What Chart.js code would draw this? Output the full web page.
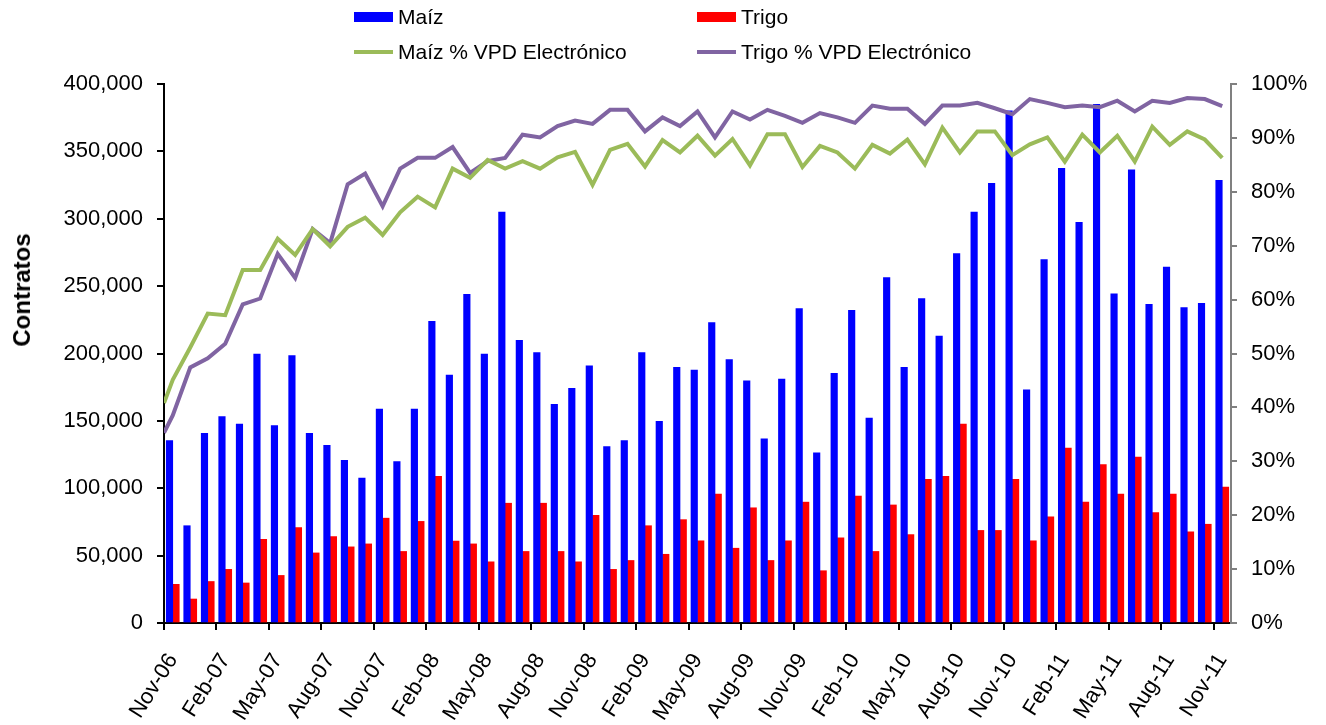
<!DOCTYPE html>
<html>
<head>
<meta charset="utf-8">
<script src="https://cdn.jsdelivr.net/npm/chart.js@4.4.1/dist/chart.umd.min.js"></script>
<style>
html,body{margin:0;padding:0;background:#fff;}
#wrap{position:relative;width:1326px;height:725px;overflow:hidden;}
#wrap canvas{position:absolute;left:0;top:0;}
.leg{position:absolute;font-family:"Liberation Sans",Arial,sans-serif;font-size:21px;color:#000;line-height:24px;white-space:nowrap;}
.sw{position:absolute;}
#ytitle{position:absolute;font-family:"Liberation Sans",Arial,sans-serif;font-weight:bold;font-size:24px;color:#000;white-space:nowrap;transform:translate(-50%,-50%) rotate(-90deg);}
</style>
</head>
<body>
<div id="wrap">
<canvas id="c" width="1326" height="725"></canvas>
<div id="ytitle">Contratos</div>
</div>
<script>
// ---- Data ----
const categories = ['Nov-06','Dec-06','Jan-07','Feb-07','Mar-07','Apr-07','May-07','Jun-07','Jul-07','Aug-07','Sep-07','Oct-07',
'Nov-07','Dec-07','Jan-08','Feb-08','Mar-08','Apr-08','May-08','Jun-08','Jul-08','Aug-08','Sep-08','Oct-08',
'Nov-08','Dec-08','Jan-09','Feb-09','Mar-09','Apr-09','May-09','Jun-09','Jul-09','Aug-09','Sep-09','Oct-09',
'Nov-09','Dec-09','Jan-10','Feb-10','Mar-10','Apr-10','May-10','Jun-10','Jul-10','Aug-10','Sep-10','Oct-10',
'Nov-10','Dec-10','Jan-11','Feb-11','Mar-11','Apr-11','May-11','Jun-11','Jul-11','Aug-11','Sep-11','Oct-11','Nov-11'];

const maiz = [135400,72200,140700,153200,147600,199600,146500,198500,140700,131900,120800,107500,
158700,119700,158700,223800,183900,243900,199600,305000,209700,200700,162200,174100,
190800,130900,135400,200700,149700,189800,187700,223000,195400,179700,136700,181000,
233300,126300,185300,232000,152100,256400,189800,240700,212900,274200,305000,326200,
380000,173100,269700,337400,297300,385000,244200,336300,236500,264100,234100,237300,328600];

const trigo = [28700,17800,30800,39800,29700,62100,35300,70900,52000,64200,56500,58700,
77800,53100,75400,108800,60800,58700,45400,88900,53100,88900,53100,45400,
79900,39800,46400,72200,51000,76700,61000,95600,55500,85500,46400,61000,
89700,38800,63200,94200,53100,87600,65600,106700,108800,147600,68700,68700,
106700,61000,78800,129800,89700,117600,95600,123200,82000,95600,67700,73300,100900];

// % values; the "Start" value is where each line meets the left axis
const maizPctStart = 40.8;
const maizPct = [45.1,51.1,57.4,57.1,65.5,65.5,71.3,68.3,73.1,69.9,73.5,75.2,
72.0,76.2,79.1,77.1,84.3,82.6,85.9,84.3,85.7,84.3,86.4,87.4,
81.3,87.8,88.9,84.7,89.6,87.3,90.4,86.7,89.8,84.9,90.7,90.7,
84.6,88.5,87.3,84.3,88.7,87.1,89.7,85.1,91.9,87.3,91.2,91.2,
86.8,88.8,90.1,85.6,90.6,87.3,90.4,85.6,92.1,88.7,91.2,89.7,86.3];

const trigoPctStart = 35.3;
const trigoPct = [38.5,47.4,49.1,51.8,59.1,60.2,68.5,64.0,73.1,70.5,81.4,83.4,
77.3,84.3,86.3,86.3,88.3,83.5,85.7,86.3,90.6,90.1,92.2,93.2,
92.6,95.2,95.2,91.2,93.8,92.2,94.9,90.1,94.9,93.4,95.2,94.1,
92.8,94.6,93.8,92.8,96.0,95.4,95.4,92.6,96.0,96.0,96.5,95.5,
94.4,97.2,96.5,95.7,96.0,95.7,96.9,94.9,96.9,96.5,97.4,97.2,95.9];

const leftTicks = {min:0, max:400000, step:50000};
const rightTicks = {min:0, max:100, step:10};

const seriesNames = ['Maíz','Trigo','Maíz % VPD Electrónico','Trigo % VPD Electrónico'];
const seriesColors = ['#0000FF','#FF0000','#9BBB59','#8064A2'];

// ---- helpers ----
function linePoints(start, arr){
  const pts = [{x:-0.5, y:start}];
  arr.forEach((v,i)=>pts.push({x:i, y:v}));
  return pts;
}

const FONT = '"Liberation Sans", Arial, sans-serif';

const chart = new Chart(document.getElementById('c'), {
  data: {
    labels: categories,
    datasets: [
      {type:'line', label:seriesNames[2], data:linePoints(maizPctStart, maizPct), xAxisID:'xl', yAxisID:'y2',
       borderColor:seriesColors[2], borderWidth:4, pointRadius:0, tension:0, fill:false, order:0},
      {type:'line', label:seriesNames[3], data:linePoints(trigoPctStart, trigoPct), xAxisID:'xl', yAxisID:'y2',
       borderColor:seriesColors[3], borderWidth:4, pointRadius:0, tension:0, fill:false, order:0},
      {type:'bar', label:seriesNames[0], data:maiz, xAxisID:'x', yAxisID:'y',
       backgroundColor:seriesColors[0], barThickness:6.5, order:1},
      {type:'bar', label:seriesNames[1], data:trigo, xAxisID:'x', yAxisID:'y',
       backgroundColor:seriesColors[1], barThickness:6.5, order:1}
    ]
  },
  options: {
    responsive:false,
    animation:false,
    events:[],
    layout:{padding:{top:84, left:0, right:0, bottom:0}},
    plugins:{legend:{display:false}, tooltip:{enabled:false}},
    scales:{
      x:{
        type:'category', position:'bottom', offset:true,
        grid:{offset:true, drawOnChartArea:false, drawTicks:true, tickLength:7, lineWidth:2,
              color:(ctx)=> (ctx.index % 3 === 0 ? '#000000' : 'rgba(0,0,0,0)')},
        border:{display:true, color:'#000000', width:2},
        ticks:{autoSkip:false, maxRotation:58, minRotation:58, padding:19, color:'#000',
               font:{family:FONT, size:22},
               callback:function(val, idx){ return idx % 3 === 0 ? categories[idx] : ''; }},
        afterFit:(s)=>{ s.height = 102; }
      },
      xl:{type:'linear', display:false, min:-0.5, max:categories.length-0.5},
      y:{
        position:'left', min:leftTicks.min, max:leftTicks.max,
        grid:{drawOnChartArea:false, drawTicks:true, tickLength:7, lineWidth:2, color:'#000000'},
        border:{display:true, color:'#000000', width:2},
        ticks:{stepSize:leftTicks.step, padding:14, color:'#000', font:{family:FONT, size:22},
               callback:(v)=> Number(v).toLocaleString('en-US')},
        afterFit:(s)=>{ s.width = 164; }
      },
      y2:{
        position:'right', min:rightTicks.min, max:rightTicks.max,
        grid:{drawOnChartArea:false, drawTicks:true, tickLength:6, lineWidth:2, color:'#808080'},
        border:{display:true, color:'#808080', width:2},
        ticks:{stepSize:rightTicks.step, padding:14, color:'#000', font:{family:FONT, size:22},
               callback:(v)=> v + '%'},
        afterFit:(s)=>{ s.width = 95; }
      }
    }
  }
});

// ---- HTML legend (2 x 2 grid) ----
(function(){
  const wrap = document.getElementById('wrap');
  const cols = [354, 697];
  const rows = [17, 52];
  const order = [0,1,2,3];
  order.forEach((si,k)=>{
    const cx = cols[k%2], cy = rows[Math.floor(k/2)];
    const sw = document.createElement('div');
    sw.className = 'sw';
    if (si < 2) {
      sw.style.left = cx+'px'; sw.style.top = (cy-5)+'px';
      sw.style.width = '39px'; sw.style.height = '10px';
    } else {
      sw.style.left = cx+'px'; sw.style.top = (cy-2)+'px';
      sw.style.width = '39px'; sw.style.height = '4px';
    }
    sw.style.background = seriesColors[si];
    wrap.appendChild(sw);
    const t = document.createElement('div');
    t.className = 'leg';
    t.textContent = seriesNames[si];
    t.style.left = (cx+44)+'px';
    t.style.top = (cy-12)+'px';
    wrap.appendChild(t);
  });
  const yt = document.getElementById('ytitle');
  yt.style.left = '22px';
  yt.style.top = '290px';
})();
</script>
</body>
</html>
